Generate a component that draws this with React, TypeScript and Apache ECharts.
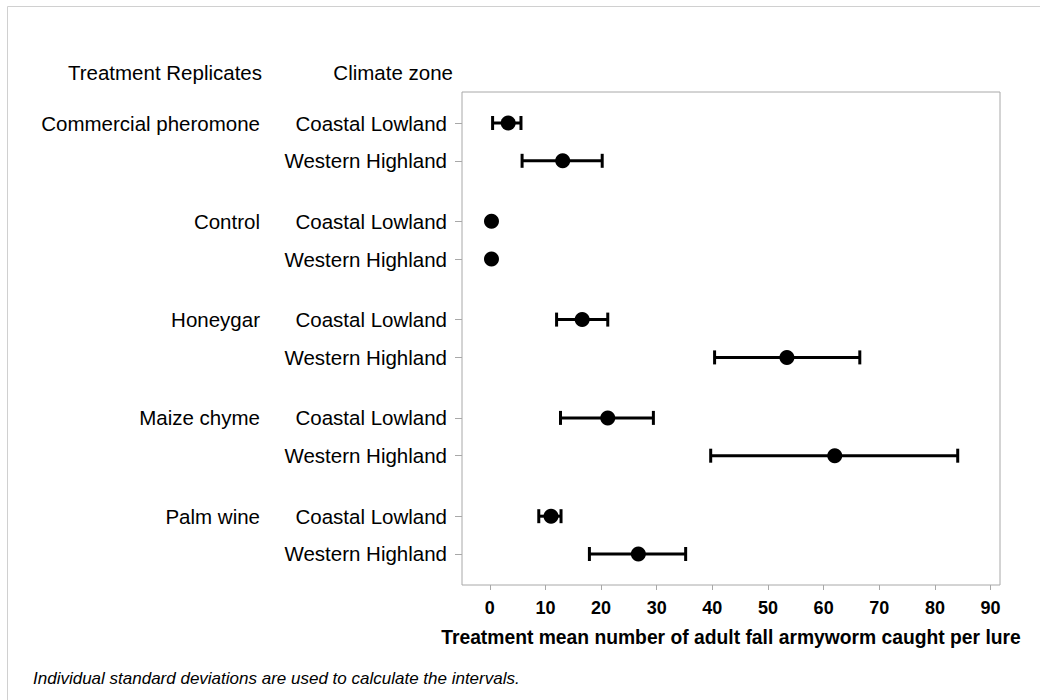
import React, { useEffect, useRef } from "react";
import * as echarts from "echarts";

const treatments = ["Commercial pheromone", "Control", "Honeygar", "Maize chyme", "Palm wine"];
const zones = ["Coastal Lowland", "Western Highland"];
const means = [3.3, 13.1, 0.3, 0.3, 16.6, 53.4, 21.2, 62.0, 11.0, 26.7];
const lowers: (number | null)[] = [0.5, 5.8, null, null, 12.0, 40.4, 12.7, 39.7, 8.8, 17.9];
const uppers: (number | null)[] = [5.6, 20.2, null, null, 21.2, 66.5, 29.4, 84.1, 12.8, 35.2];
const xTicks = [0, 10, 20, 30, 40, 50, 60, 70, 80, 90];
const xTitle = "Treatment mean number of adult fall armyworm caught per lure";
const footnote = "Individual standard deviations are used to calculate the intervals.";

const GROUP_STEP = 2.6;
const FONT = "Liberation Sans, Arial, sans-serif";
const LABEL_SIZE = 20.5;

export default function App() {
  const ref = useRef<HTMLDivElement>(null);
  useEffect(() => {
    const chart = echarts.init(ref.current!, null, { renderer: "svg" });
    const rows: { pos: number; zone: string; treat: string; idx: number }[] = [];
    treatments.forEach((t, g) => {
      zones.forEach((z, m) => {
        rows.push({ pos: +(g * GROUP_STEP + m).toFixed(3), zone: z, treat: t, idx: rows.length });
      });
    });
    const zonePositions = rows.map((r) => r.pos);
    const treatPositions = rows.filter((r) => r.zone === zones[0]).map((r) => r.pos);
    const findRow = (v: number) => rows.find((r) => Math.abs(r.pos - v) < 0.01);

    const errData = rows
      .filter((r) => lowers[r.idx] != null && uppers[r.idx] != null)
      .map((r) => [lowers[r.idx], uppers[r.idx], r.pos]);
    const dotData = rows.map((r) => [means[r.idx], r.pos]);

    const option: any = {
      animation: false,
      backgroundColor: "#fff",
      textStyle: { fontFamily: FONT },
      graphic: [
        {
          type: "rect",
          shape: { x: 7.5, y: 6.5, width: 1100, height: 800 },
          style: { fill: "none", stroke: "#d0d0d0", lineWidth: 1 },
          silent: true,
        },
        {
          type: "text",
          x: 262,
          y: 72,
          style: { text: "Treatment Replicates", fontFamily: FONT, fontSize: LABEL_SIZE, fill: "#000", align: "right", verticalAlign: "middle" },
        },
        {
          type: "text",
          x: 453,
          y: 72,
          style: { text: "Climate zone", fontFamily: FONT, fontSize: LABEL_SIZE, fill: "#000", align: "right", verticalAlign: "middle" },
        },
        {
          type: "text",
          x: 33,
          y: 678,
          style: { text: footnote, fontFamily: FONT, fontSize: 17, fontStyle: "italic", fill: "#000", align: "left", verticalAlign: "middle" },
        },
      ],
      grid: {
        left: 462,
        top: 92,
        width: 538,
        height: 493,
        show: true,
        borderColor: "#a8a8a8",
        borderWidth: 1,
        backgroundColor: "transparent",
      },
      xAxis: {
        type: "value",
        min: -5,
        max: 91.7,
        axisLine: { show: false, onZero: false },
        splitLine: { show: false },
        axisTick: { show: true, customValues: xTicks, length: 5, lineStyle: { color: "#a8a8a8" } },
        axisLabel: {
          customValues: xTicks,
          margin: 14,
          fontSize: 18,
          fontWeight: "bold",
          color: "#000",
          fontFamily: FONT,
        },
        name: xTitle,
        nameLocation: "middle",
        nameGap: 43,
        nameTextStyle: { fontSize: 19.3, fontWeight: "bold", color: "#000", fontFamily: FONT },
      },
      yAxis: [
        {
          type: "value",
          inverse: true,
          min: -0.82,
          max: 12.22,
          axisLine: { show: false, onZero: false },
          splitLine: { show: false },
          axisTick: { show: true, customValues: zonePositions, length: 7, lineStyle: { color: "#a8a8a8" } },
          axisLabel: {
            customValues: zonePositions,
            margin: 15,
            fontSize: LABEL_SIZE,
            color: "#000",
            fontFamily: FONT,
            formatter: (v: number) => {
              const r = findRow(v);
              return r ? r.zone : "";
            },
          },
        },
        {
          type: "value",
          inverse: true,
          min: -0.82,
          max: 12.22,
          position: "left",
          offset: 194,
          axisLine: { show: false, onZero: false },
          splitLine: { show: false },
          axisTick: { show: false },
          axisLabel: {
            customValues: treatPositions,
            margin: 8,
            fontSize: LABEL_SIZE,
            color: "#000",
            fontFamily: FONT,
            formatter: (v: number) => {
              const r = findRow(v);
              return r ? r.treat : "";
            },
          },
        },
      ],
      series: [
        {
          type: "custom",
          xAxisIndex: 0,
          yAxisIndex: 0,
          data: errData,
          renderItem: (params: any, api: any) => {
            const lo = api.coord([api.value(0), api.value(2)]);
            const hi = api.coord([api.value(1), api.value(2)]);
            const cap = 7;
            const style = { stroke: "#000", lineWidth: 3 };
            return {
              type: "group",
              children: [
                { type: "line", shape: { x1: lo[0], y1: lo[1], x2: hi[0], y2: hi[1] }, style },
                { type: "line", shape: { x1: lo[0], y1: lo[1] - cap, x2: lo[0], y2: lo[1] + cap }, style },
                { type: "line", shape: { x1: hi[0], y1: hi[1] - cap, x2: hi[0], y2: hi[1] + cap }, style },
              ],
            };
          },
          silent: true,
        },
        {
          type: "scatter",
          xAxisIndex: 0,
          yAxisIndex: 0,
          data: dotData,
          symbol: "circle",
          symbolSize: 15,
          itemStyle: { color: "#000", opacity: 1 },
          silent: true,
          z: 5,
        },
      ],
    };
    chart.setOption(option);
    return () => chart.dispose();
  }, []);
  return (
    <div
      ref={ref}
      style={{ position: "fixed", left: 0, top: 0, width: 1040, height: 700, background: "#fff" }}
    />
  );
}
